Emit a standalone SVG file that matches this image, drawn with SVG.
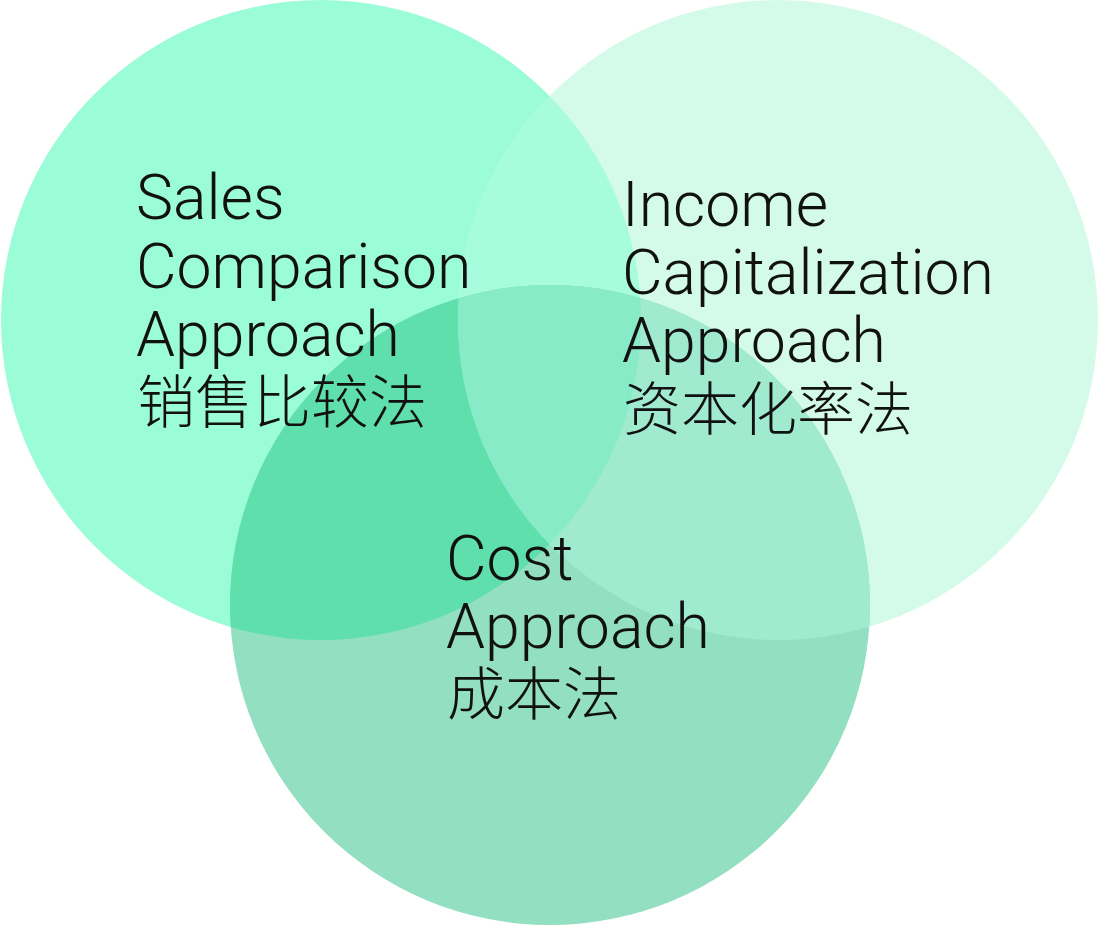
<svg xmlns="http://www.w3.org/2000/svg" width="1098" height="926" viewBox="0 0 1098 926">
<style>
.lat{font-family:Roboto,"Liberation Sans",sans-serif;font-weight:300;font-size:62.5px;fill:#111}
.cjk{font-family:"Noto Sans CJK SC",sans-serif;font-weight:300;font-size:58px;fill:#111}
</style>
<defs>
<clipPath id="cL"><circle cx="321" cy="320" r="320"/></clipPath>
<clipPath id="cR"><circle cx="778" cy="320" r="320"/></clipPath>
</defs>
<rect width="1098" height="926" fill="#fff"/>
<g id="circles">
<circle cx="321" cy="320" r="320" fill="#9bfcd8"/>
<circle cx="778" cy="320" r="320" fill="#d4fbea"/>
<circle cx="778" cy="320" r="320" fill="#a6fcdc" clip-path="url(#cL)"/>
<circle cx="550" cy="605" r="320" fill="#92dfc1"/>
<circle cx="550" cy="605" r="320" fill="#5fdfac" clip-path="url(#cL)"/>
<circle cx="550" cy="605" r="320" fill="#a0ebd0" clip-path="url(#cR)"/>
<g clip-path="url(#cL)"><circle cx="550" cy="605" r="320" fill="#88ebc7" clip-path="url(#cR)"/></g>
</g>
<g id="sales">
<text class="lat" x="136" y="219">Sales</text>
<text class="lat" x="136" y="288">Comparison</text>
<text class="lat" x="136" y="356">Approach</text>
<text class="cjk" x="137" y="423">销售比较法</text>
</g>
<g id="income">
<text class="lat" x="622" y="226">Income</text>
<text class="lat" x="622" y="294">Capitalization</text>
<text class="lat" x="622" y="362">Approach</text>
<text class="cjk" x="623" y="430">资本化率法</text>
</g>
<g id="cost">
<text class="lat" x="446" y="580">Cost</text>
<text class="lat" x="446" y="648">Approach</text>
<text class="cjk" x="447" y="715">成本法</text>
</g>
</svg>
